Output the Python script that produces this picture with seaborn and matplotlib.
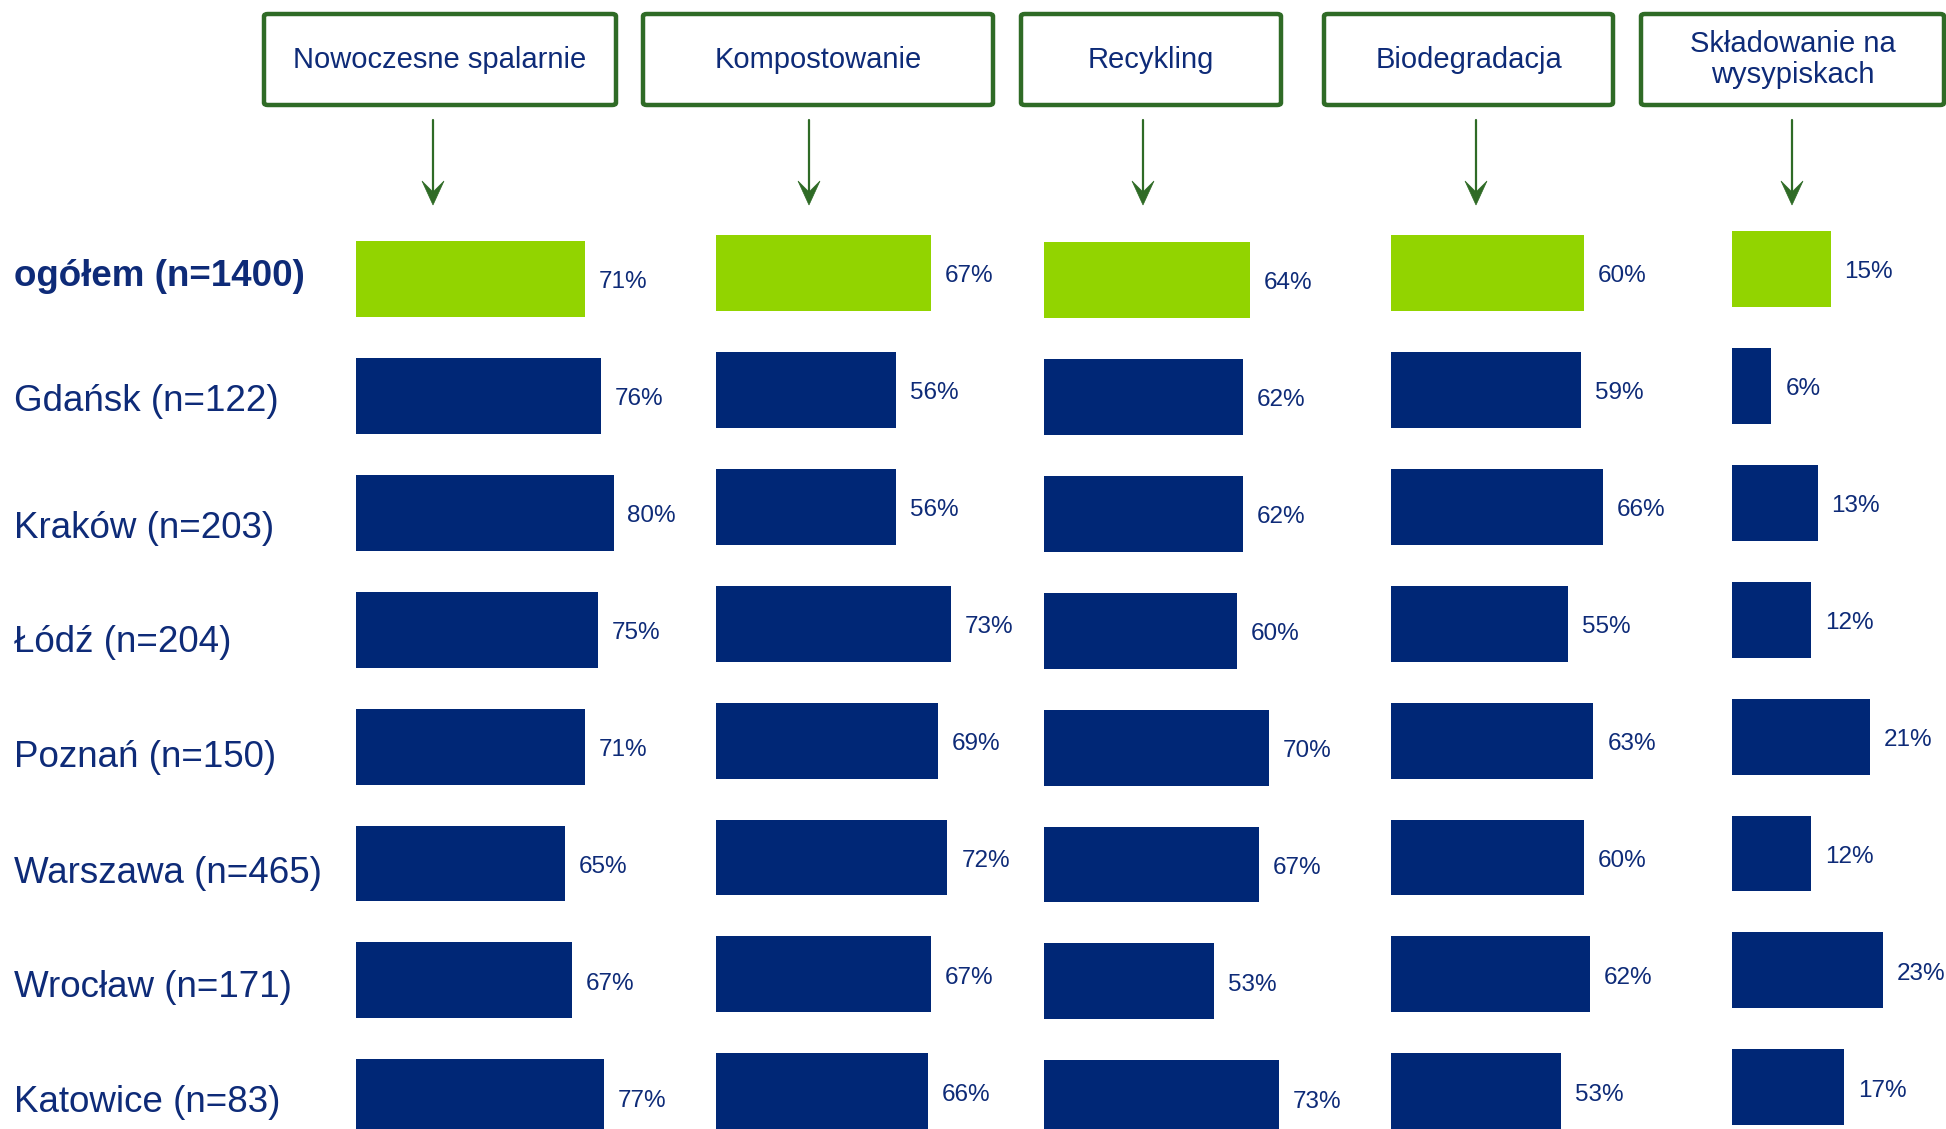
import matplotlib
matplotlib.use("Agg")
import matplotlib.pyplot as plt
import matplotlib.transforms as mtransforms
from matplotlib.patches import FancyBboxPatch, Polygon
from matplotlib.lines import Line2D
import seaborn as sns
import pandas as pd

# ---- data -------------------------------------------------------------
cities = ["ogółem (n=1400)", "Gdańsk (n=122)", "Kraków (n=203)", "Łódź (n=204)",
          "Poznań (n=150)", "Warszawa (n=465)", "Wrocław (n=171)", "Katowice (n=83)"]
methods = ["Nowoczesne spalarnie", "Kompostowanie", "Recykling", "Biodegradacja",
           "Składowanie na\nwysypiskach"]
spalarnie = [71, 76, 80, 75, 71, 65, 67, 77]
kompostowanie = [67, 56, 56, 73, 69, 72, 67, 66]
recykling = [64, 62, 62, 60, 70, 67, 53, 73]
biodegradacja = [60, 59, 66, 55, 63, 60, 62, 53]
skladowanie = [15, 6, 13, 12, 21, 12, 23, 17]
series = [spalarnie, kompostowanie, recykling, biodegradacja, skladowanie]

# ---- style ------------------------------------------------------------
sns.set_theme(style="white")
plt.rcParams['font.family'] = ['Liberation Sans', 'DejaVu Sans']

GREEN = "#92D400"
NAVY = "#002776"
TEXT = "#0E2B78"
BOX = "#2F6B26"

W, H = 1946, 1129
fig = plt.figure(figsize=(W / 100, H / 100), dpi=100)
fig.patch.set_facecolor("white")


def fx(x):
    return x / W


def fy(y):
    return 1 - y / H


# panel geometry (pixels)
panel_x0 = [356, 716, 1044, 1391, 1732]
px_per_pct = [3.22, 3.214, 3.214, 3.214, 6.58]
row0 = [279, 273, 280, 273, 269]
row_step = 116.9
panel_w = 260

colors = [GREEN] + [NAVY] * (len(cities) - 1)

axes = []
for k, vals in enumerate(series):
    ax = fig.add_axes([fx(panel_x0[k]), 0, panel_w / W, 1])
    df = pd.DataFrame({"miasto": cities, "wartosc": vals})
    sns.barplot(data=df, x="wartosc", y="miasto", hue="miasto", palette=colors,
                legend=False, orient="h", width=0.65, linewidth=0, ax=ax,
                saturation=1)
    ax.set_xlim(0, panel_w / px_per_pct[k])
    ax.set_ylim((H - row0[k]) / row_step, -row0[k] / row_step)
    ax.axis("off")
    for i, v in enumerate(vals):
        ax.annotate(f"{v}%", xy=(v, i), xytext=(10, -2.5), textcoords="offset points",
                    va="center", ha="left", fontsize=17.5, color=TEXT,
                    annotation_clip=False)
    axes.append(ax)

# row labels on the left (small vertical nudges in pixels)
label_nudge_px = [-2, 6, 16, 13, 11, 10, 7, 5]
trans = mtransforms.blended_transform_factory(fig.transFigure, axes[0].transData)
for i, name in enumerate(cities):
    fig.text(fx(14), i + label_nudge_px[i] / row_step, name, transform=trans,
             ha="left", va="center", fontsize=26.5, color=TEXT,
             fontweight="bold" if i == 0 else "normal")

# header boxes with arrows
boxes = [(264, 616), (643, 993), (1021, 1281), (1324, 1613), (1641, 1944)]
arrow_x = [433, 809, 1143, 1476, 1792]
box_top, box_bot = 14, 105
for (x1, x2), label, axx in zip(boxes, methods, arrow_x):
    patch = FancyBboxPatch((fx(x1), fy(box_bot)), (x2 - x1) / W, (box_bot - box_top) / H,
                           boxstyle="round,pad=0,rounding_size=0.002",
                           transform=fig.transFigure, facecolor="white",
                           edgecolor=BOX, linewidth=3.2)
    fig.add_artist(patch)
    fig.text(fx((x1 + x2) / 2), fy((box_top + box_bot) / 2), label, ha="center",
             va="center", fontsize=21, color=TEXT, linespacing=1.15)
    # arrow shaft
    fig.add_artist(Line2D([fx(axx), fx(axx)], [fy(120), fy(196)],
                          transform=fig.transFigure, color=BOX, linewidth=1.6))
    # notched arrow head
    tip = 205
    head = Polygon([(fx(axx - 11), fy(tip - 24)), (fx(axx), fy(tip)),
                    (fx(axx + 11), fy(tip - 24)), (fx(axx), fy(tip - 13))],
                   closed=True, transform=fig.transFigure, facecolor=BOX,
                   edgecolor=BOX, linewidth=0.5)
    fig.add_artist(head)

fig.savefig("out.png", dpi=100, facecolor="white")
